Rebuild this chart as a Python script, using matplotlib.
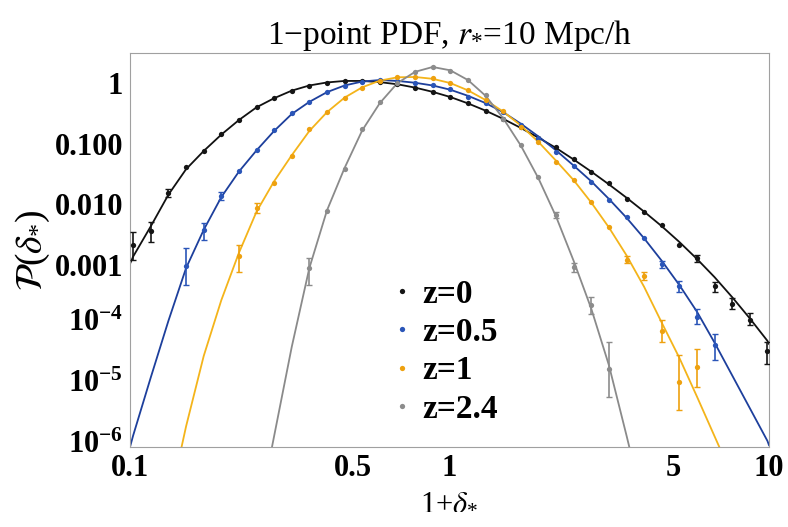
import numpy as np
import matplotlib
matplotlib.use("Agg")
import matplotlib.pyplot as plt
from matplotlib.lines import Line2D
from matplotlib.transforms import ScaledTranslation

plt.rcParams["font.family"] = ["Liberation Serif", "DejaVu Serif"]
plt.rcParams["mathtext.fontset"] = "stix"
plt.rcParams["mathtext.default"] = "regular"

# bin centres in 1+delta (log spaced)
x_bins = [0.1023, 0.1162, 0.1319, 0.1498, 0.1701, 0.1931, 0.2192, 0.2489,
          0.2825, 0.3208, 0.3642, 0.4135, 0.4695, 0.5331, 0.6053, 0.6872,
          0.7802, 0.8858, 1.0058, 1.142, 1.297, 1.472, 1.672, 1.898,
          2.155, 2.446, 2.778, 3.154, 3.581, 4.066, 4.616, 5.241,
          5.951, 6.755, 7.670, 8.709, 9.888]

# measured PDF, log10 P, per redshift (first bin index given)
z0_start = 0
z0_logp = [-2.67, -2.44, -1.82, -1.39, -1.12, -0.84, -0.61, -0.39, -0.24,
           -0.127, -0.045, 0.005, 0.038, 0.033, 0.02, -0.02, -0.077, -0.143,
           -0.226, -0.336, -0.457, -0.594, -0.73, -0.91, -1.06, -1.26, -1.47,
           -1.645, -1.91, -2.12, -2.34, -2.67, -2.89, -3.35, -3.64, -3.90, -4.42]
z05_start = 3
z05_logp = [-3.01, -2.43, -1.86, -1.45, -1.105, -0.776, -0.495, -0.32, -0.155,
            -0.05, 0.02, 0.05, 0.033, 0.005, -0.033, -0.10, -0.226, -0.335,
            -0.47, -0.69, -0.90, -1.13, -1.37, -1.63, -1.92, -2.21, -2.55,
            -2.99, -3.34, -3.85, -4.32]
z1_start = 6
z1_logp = [-2.85, -2.06, -1.65, -1.20, -0.76, -0.47, -0.24, -0.077, 0.033,
           0.10, 0.10, 0.077, -0.005, -0.115, -0.28, -0.457, -0.72, -0.97,
           -1.30, -1.60, -1.96, -2.38, -2.91, -3.18, -4.09, -4.93, -4.68]
z24_start = 10
z24_logp = [-3.05, -2.11, -1.41, -0.76, -0.32, -0.005, 0.187, 0.27, 0.203,
            0.05, -0.198, -0.60, -1.02, -1.55, -2.17, -3.04, -3.66, -4.71]

# visible error bars: bin index, log10 lower, log10 upper
z0_err_idx = [0, 1, 2, 32, 33, 34, 35, 36]
z0_err_lo = [-2.92, -2.62, -1.88, -2.95, -3.44, -3.73, -3.99, -4.63]
z0_err_hi = [-2.45, -2.29, -1.74, -2.83, -3.28, -3.55, -3.79, -4.27]
z05_err_idx = [3, 4, 5, 30, 31, 32, 33]
z05_err_lo = [-3.33, -2.59, -1.92, -3.05, -3.44, -3.97, -4.56]
z05_err_hi = [-2.72, -2.30, -1.80, -2.93, -3.26, -3.72, -4.14]
z1_err_idx = [6, 7, 28, 29, 30, 31, 32]
z1_err_lo = [-3.11, -2.14, -2.97, -3.24, -4.27, -5.39, -5.01]
z1_err_hi = [-2.67, -1.98, -2.85, -3.12, -3.90, -4.49, -4.38]
z24_err_idx = [10, 24, 25, 26, 27]
z24_err_lo = [-3.33, -2.22, -3.12, -3.80, -5.17]
z24_err_hi = [-2.89, -2.12, -2.97, -3.53, -4.27]

# theory curves, log10 P (ends where it leaves the frame)
z0_curve_x = [0.1] + x_bins + [10.0]
z0_curve = [-2.98, -2.86, -2.36, -1.84, -1.42, -1.12, -0.85, -0.61, -0.40,
            -0.25, -0.125, -0.04, 0.01, 0.035, 0.035, 0.015, -0.02, -0.075,
            -0.145, -0.23, -0.335, -0.455, -0.59, -0.74, -0.90, -1.07, -1.26,
            -1.46, -1.67, -1.89, -2.12, -2.36, -2.62, -2.90, -3.20, -3.53,
            -3.88, -4.25, -4.30]
z05_curve_x = [0.1] + x_bins + [10.0]
z05_curve = [-6.0, -5.81, -4.85, -3.92, -3.05, -2.42, -1.88, -1.46, -1.11,
             -0.79, -0.51, -0.31, -0.15, -0.04, 0.025, 0.05, 0.035, 0.005,
             -0.04, -0.11, -0.21, -0.33, -0.48, -0.67, -0.88, -1.11, -1.36,
             -1.62, -1.91, -2.22, -2.56, -2.93, -3.33, -3.77, -4.28, -4.82,
             -5.36, -5.90, -5.97]
z1_curve_x = [0.145] + x_bins[3:33] + [6.99]
z1_curve = [-6.0, -5.66, -4.50, -3.58, -2.80, -2.12, -1.62, -1.19, -0.79,
            -0.48, -0.24, -0.07, 0.04, 0.095, 0.10, 0.07, 0.0, -0.12, -0.28,
            -0.47, -0.70, -0.97, -1.28, -1.60, -1.97, -2.38, -2.84, -3.36,
            -3.95, -4.53, -5.17, -6.0]
z24_curve_x = [0.2782] + x_bins[9:29] + [3.654]
z24_curve = [-6.0, -4.35, -3.05, -2.10, -1.40, -0.78, -0.33, 0.0, 0.185,
             0.265, 0.21, 0.05, -0.21, -0.58, -1.03, -1.57, -2.20, -2.93,
             -3.72, -4.65, -5.81, -6.0]

labels = ["z=0", "z=0.5", "z=1", "z=2.4"]
point_colors = ["#151515", "#2a55b8", "#eea10f", "#8c8c8c"]
line_colors = ["#111111", "#1d3f9c", "#f4b41a", "#8a8a8a"]

series = [
    (z0_start, z0_logp, z0_err_idx, z0_err_lo, z0_err_hi, z0_curve_x, z0_curve),
    (z05_start, z05_logp, z05_err_idx, z05_err_lo, z05_err_hi, z05_curve_x, z05_curve),
    (z1_start, z1_logp, z1_err_idx, z1_err_lo, z1_err_hi, z1_curve_x, z1_curve),
    (z24_start, z24_logp, z24_err_idx, z24_err_lo, z24_err_hi, z24_curve_x, z24_curve),
]

fig = plt.figure(figsize=(7.88, 5.27), dpi=100)
ax = fig.add_axes([130 / 788, 1 - 447 / 527, 639 / 788, 394 / 527])

xb = np.array(x_bins)
for (start, logp, eidx, elo, ehi, cx, cy), pc, lc in zip(series, point_colors, line_colors):
    ax.plot(cx, 10 ** np.array(cy), color=lc, lw=1.3, zorder=2)
    px = xb[start:start + len(logp)]
    py = 10 ** np.array(logp)
    ax.plot(px, py, "o", color=pc, ms=3.8, mec="none", zorder=3)
    ex = xb[eidx]
    ey = py[np.array(eidx) - start]
    lo = ey - 10 ** np.array(elo)
    hi = 10 ** np.array(ehi) - ey
    ax.errorbar(ex, ey, yerr=[lo, hi], fmt="none", ecolor=pc, elinewidth=1.2,
                capsize=2.2, capthick=1.0, zorder=3)

ax.set_xscale("log")
ax.set_yscale("log")
ax.set_xlim(0.1, 10)
ax.set_ylim(1e-6, 3.13)

ax.set_xticks([0.1, 0.5, 1, 5, 10])
ax.set_xticklabels(["0.1", "0.5", "1", "5", "10"])
ax.set_yticks([1e-6, 1e-5, 1e-4, 1e-3, 1e-2, 1e-1, 1])
ax.set_yticklabels([r"$10^{-6}$", r"$10^{-5}$", r"$10^{-4}$", "0.001", "0.010",
                    "0.100", "1"])
ax.minorticks_off()
ax.tick_params(axis="both", length=0, labelsize=22)
ax.tick_params(axis="x", pad=5)
ax.tick_params(axis="y", pad=5)
for lab in ax.get_xticklabels() + ax.get_yticklabels():
    lab.set_fontweight("bold")
# lift the power-of-ten labels so the "10" sits on its gridline
for lab in ax.get_yticklabels()[:3]:
    lab.set_transform(lab.get_transform() + ScaledTranslation(0, 4 / 72, fig.dpi_scale_trans))
for sp in ax.spines.values():
    sp.set_color("#a0a0a0")
    sp.set_linewidth(0.8)

ax.set_title(r"1$-$point PDF, $\mathit{r}_{*}$=10 Mpc/h", fontsize=24, pad=5)
ax.set_xlabel(r"1+$\mathit{\delta}_{*}$", fontsize=22, labelpad=3)
ax.set_ylabel(r"$\mathcal{P}(\mathit{\delta}_{*})$", fontsize=27, labelpad=2)

handles = [Line2D([], [], marker="o", ls="none", color=c, ms=3.8, mec="none")
           for c in point_colors]
leg = ax.legend(handles, labels, loc="upper left", bbox_to_anchor=(0.41, 0.427),
                frameon=False, fontsize=24, handlelength=0.6, handletextpad=0.3,
                labelspacing=0.22, borderaxespad=0, borderpad=0)
for t in leg.get_texts():
    t.set_fontweight("bold")

fig.savefig("out.png", dpi=100)
